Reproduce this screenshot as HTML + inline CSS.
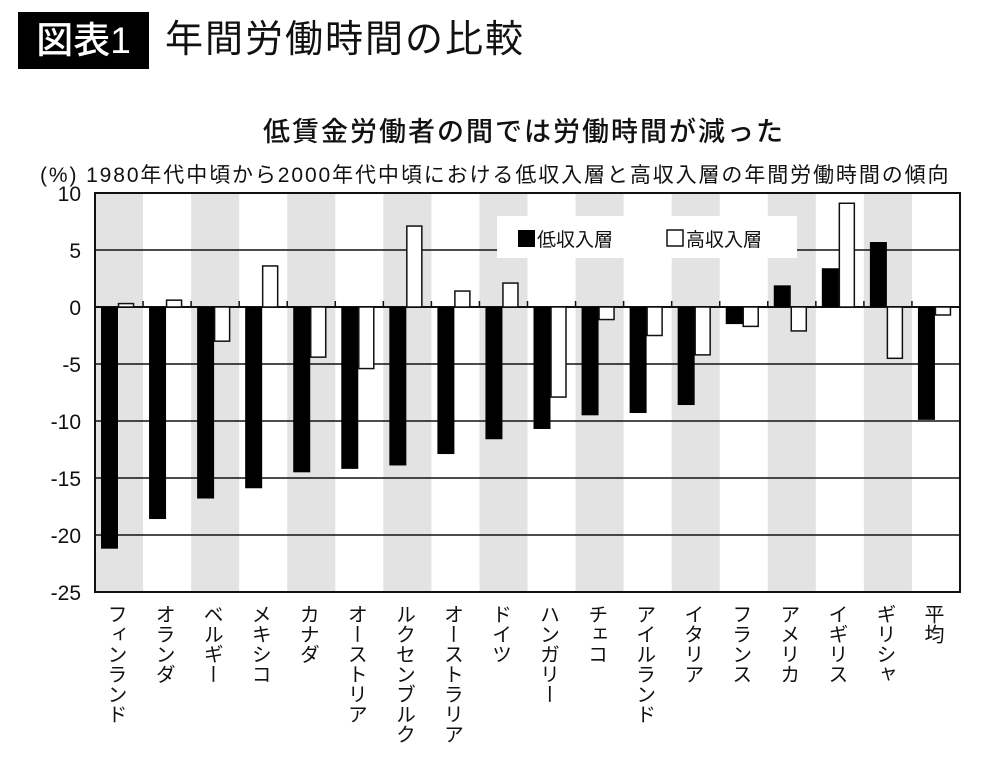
<!DOCTYPE html>
<html><head><meta charset="utf-8"><style>
body{margin:0;background:#fff;width:1000px;height:760px;overflow:hidden;font-family:"Liberation Sans","Noto Sans CJK JP",sans-serif}
.t{position:absolute;white-space:nowrap;color:#111}
</style></head><body>
<div class="t" style="left:18px;top:12px;width:131px;height:57px;background:#000;color:#fff;font-size:37px;line-height:57px;text-align:center;font-weight:500">図表1</div>
<div class="t" style="left:165px;top:12px;font-size:38px;line-height:57px;letter-spacing:2px">年間労働時間の比較</div>
<div class="t" style="left:24px;width:1000px;text-align:center;top:110px;font-size:27px;letter-spacing:2px;font-weight:500">低賃金労働者の間では労働時間が減った</div>
<div class="t" style="left:40px;top:159px;font-size:21px;letter-spacing:1.9px">(%) 1980年代中頃から2000年代中頃における低収入層と高収入層の年間労働時間の傾向</div>
<svg id="c" width="1000" height="760" style="position:absolute;left:0;top:0"></svg>
<script>
const categories=["フィンランド","オランダ","ベルギー","メキシコ","カナダ","オーストリア","ルクセンブルク","オーストラリア","ドイツ","ハンガリー","チェコ","アイルランド","イタリア","フランス","アメリカ","イギリス","ギリシャ","平均"];
const lowIncome=[-21.2,-18.6,-16.8,-15.9,-14.5,-14.2,-13.9,-12.9,-11.6,-10.7,-9.5,-9.3,-8.6,-1.5,1.9,3.4,5.7,-9.9];
const highIncome=[0.3,0.6,-3.0,3.6,-4.4,-5.4,7.1,1.4,2.1,-7.9,-1.1,-2.5,-4.2,-1.7,-2.1,9.1,-4.5,-0.7];
const yTicks=[10,5,0,-5,-10,-15,-20,-25];
const legendLabels=["低収入層","高収入層"];
const NS="http://www.w3.org/2000/svg",svg=document.getElementById('c');
const L=95,R=960,T=193,B=592,ymax=10,ymin=-25;
const bw=(R-L)/categories.length;
const y=v=>T+(ymax-v)/(ymax-ymin)*(B-T);
const xb=i=>L+i*bw;
function mk(t,a){const e=document.createElementNS(NS,t);for(const k in a)e.setAttribute(k,a[k]);svg.appendChild(e);return e;}
categories.forEach((c,i)=>{if(i%2==0){const r=mk('rect',{x:xb(i),y:T,width:bw,height:B-T,fill:'#e3e3e3'});

}});
yTicks.forEach(v=>{const l=mk('line',{x1:L,x2:R,y1:y(v),y2:y(v),stroke:'#111','stroke-width':v==0?2:1.5});


const t=mk('text',{x:L-14,y:y(v)+8,'text-anchor':'end','font-size':21,fill:'#111','font-family':'Liberation Sans, sans-serif'});t.textContent=v;

});
categories.forEach((c,i)=>{
const x0=xb(i);
const b=mk('rect',{x:x0+6,y:Math.min(y(0),y(lowIncome[i])),width:17,height:Math.abs(y(lowIncome[i])-y(0)),fill:'#000'});


const w=mk('rect',{x:x0+23.5,y:Math.min(y(0),y(highIncome[i])),width:15,height:Math.abs(y(highIncome[i])-y(0)),fill:'#fff',stroke:'#111','stroke-width':1.5});


if(i>0){const tk=mk('line',{x1:x0,x2:x0,y1:y(0),y2:y(0)-6,stroke:'#111','stroke-width':1.5});

}
const t=mk('text',{x:x0+bw/2-4,y:B+12,'font-size':20,fill:'#111','writing-mode':'vertical-rl','font-family':'Liberation Sans, Noto Sans CJK JP, sans-serif'});t.textContent=c;

});
const fr=mk('rect',{x:L,y:T,width:R-L,height:B-T,fill:'none',stroke:'#111','stroke-width':2});


const lg=mk('rect',{x:497,y:216,width:300,height:42,fill:'#fff'});


const k1=mk('rect',{x:518,y:230,width:17,height:17,fill:'#000'});


const k2=mk('rect',{x:667,y:230,width:16,height:16,fill:'#fff',stroke:'#111','stroke-width':1.5});


[[537,0],[686,1]].forEach(([x,j])=>{const t=mk('text',{x:x,y:246,'font-size':19,fill:'#111','font-family':'Liberation Sans, Noto Sans CJK JP, sans-serif'});t.textContent=legendLabels[j];

});
</script>
</body></html>
